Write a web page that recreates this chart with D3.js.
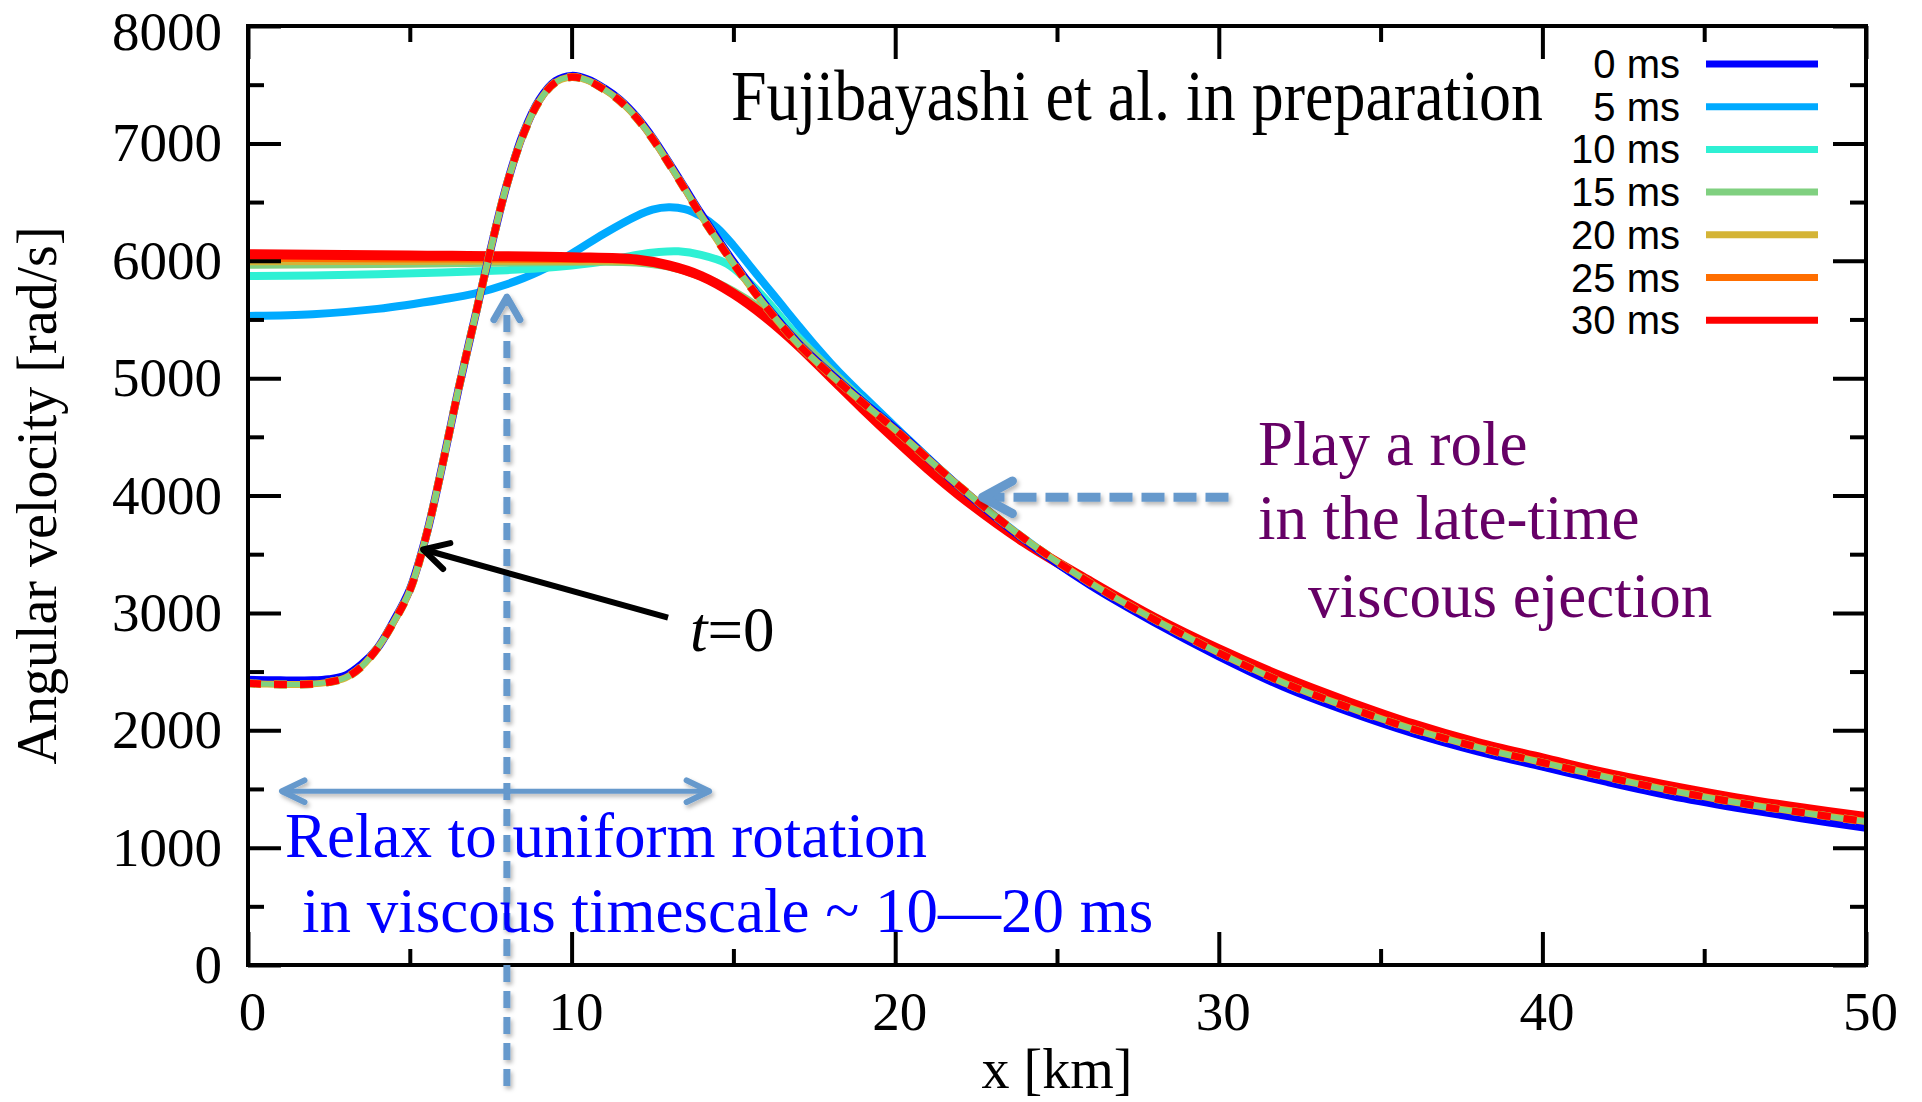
<!DOCTYPE html>
<html>
<head>
<meta charset="utf-8">
<script src="https://cdn.jsdelivr.net/npm/d3@7"></script>
<style>
  html, body { margin: 0; padding: 0; background: #ffffff; }
  svg { display: block; }
</style>
</head>
<body>
<svg id="chart" width="1922" height="1102"></svg>
<script>
// ---- axis ticks ----
const xTickValues = [0, 10, 20, 30, 40, 50];
const xMinorTicks = [5, 15, 25, 35, 45];
const yTickValues = [0, 1000, 2000, 3000, 4000, 5000, 6000, 7000, 8000];
const yMinorTicks = [500, 1500, 2500, 3500, 4500, 5500, 6500, 7500];

// ---- series (x [km], angular velocity [rad/s]) ----
const seriesNames  = ["0 ms", "5 ms", "10 ms", "15 ms", "20 ms", "25 ms", "30 ms"];
const seriesColors = ["#0000ff", "#00aaff", "#2ef0d4", "#80d080", "#d4b436", "#ff6e00", "#ff0000"];

const omega0ms = [[0,2430],[1,2425],[2,2425],[2.5,2435],[3,2465],[3.5,2560],[4,2700],[4.5,2930],
  [5,3200],[5.5,3650],[6,4250],[6.5,4900],[7,5500],[7.5,6100],[8,6650],[8.5,7080],[9,7370],
  [9.5,7530],[10,7575],[10.5,7545],[11,7470],[11.5,7370],[12,7230],[12.5,7050],[13,6840],
  [13.5,6620],[14,6400],[15,5990],[16,5620],[17,5300],[18,5040],[19,4800],[20,4570],[22,4070],
  [24,3620],[26,3240],[28,2920],[30,2630],[32,2370],[34,2160],[36,1975],[38,1820],[40,1690],
  [42,1560],[44,1440],[46,1340],[48,1250],[50,1170]];

const omega5ms = [[0,5530],[2,5545],[4,5590],[6,5670],[7,5720],[8,5800],[9,5910],[10,6060],
  [11,6230],[12,6380],[12.5,6435],[13,6455],[13.5,6440],[14,6380],[14.5,6280],[15,6130],
  [15.5,5960],[16,5790],[16.5,5620],[17,5450],[17.5,5285],[18,5130],[18.5,4985],[19,4850],
  [20,4585],[22,4070],[24,3630],[26,3250],[28,2930],[30,2635],[32,2380],[34,2170],[36,1980],
  [38,1828],[40,1695],[42,1568],[44,1450],[46,1350],[48,1262],[50,1180]];

const omega10ms = [[0,5870],[2,5875],[4,5885],[6,5900],[8,5920],[9,5935],[10,5960],[11,5995],
  [12,6050],[12.7,6075],[13.3,6080],[14,6050],[14.8,5975],[15.4,5840],[16,5670],[17,5350],
  [18,5070],[19,4810],[20,4560],[22,4060],[24,3620],[26,3250],[28,2930],[30,2640],[32,2390],
  [34,2180],[36,1990],[38,1835],[40,1700],[42,1575],[44,1460],[46,1360],[48,1275],[50,1195]];

const omega15ms = [[0,5965],[5,5975],[10,5990],[12,5985],[13,5950],[14,5870],[15,5740],[16,5560],
  [17,5330],[18,5070],[19,4800],[20,4540],[22,4040],[24,3620],[26,3260],[28,2950],[30,2670],
  [32,2420],[34,2210],[36,2020],[38,1860],[40,1720],[42,1600],[44,1480],[46,1380],[48,1300],[50,1225]];

const omega20ms = [[0,5995],[5,5998],[10,6000],[12,5995],[13,5955],[14,5865],[15,5725],[16,5535],
  [17,5300],[18,5035],[19,4765],[20,4505],[22,4015],[24,3605],[26,3265],[28,2955],[30,2680],
  [32,2440],[34,2225],[36,2040],[38,1880],[40,1745],[42,1620],[44,1505],[46,1405],[48,1320],[50,1245]];

const omega25ms = [[0,6025],[5,6020],[10,6015],[12,6005],[13,5958],[14,5868],[15,5722],[16,5528],
  [17,5290],[18,5022],[19,4752],[20,4492],[22,4008],[24,3602],[26,3268],[28,2958],[30,2685],
  [32,2445],[34,2232],[36,2045],[38,1885],[40,1752],[42,1625],[44,1512],[46,1412],[48,1328],[50,1252]];

const omega30ms = [[0,6055],[5,6045],[10,6030],[12,6010],[13,5960],[14,5870],[15,5720],[16,5520],
  [17,5280],[18,5010],[19,4740],[20,4480],[21,4230],[22,4000],[24,3600],[26,3270],[28,2960],
  [30,2690],[32,2450],[34,2240],[36,2050],[38,1890],[40,1760],[42,1630],[44,1520],[46,1420],
  [48,1335],[50,1260]];

// dashed companion profile plotted for the later snapshots
const dashedProfile = [[0,2400],[1,2390],[2,2395],[2.5,2410],[3,2445],[3.5,2540],[4,2700],
  [4.5,2920],[5,3190],[5.5,3650],[6,4250],[6.5,4900],[7,5500],[7.5,6100],[8,6650],[8.5,7070],
  [9,7360],[9.5,7520],[10,7565],[10.5,7535],[11,7460],[11.5,7360],[12,7220],[12.5,7040],
  [13,6830],[13.5,6610],[14,6385],[15,5975],[16,5610],[17,5290],[18,5030],[19,4790],[20,4560],
  [22,4075],[24,3630],[26,3260],[28,2945],[30,2660],[32,2405],[34,2195],[36,2010],[38,1855],
  [40,1725],[42,1600],[44,1485],[46,1385],[48,1300],[50,1222]];

const seriesData = [omega0ms, omega5ms, omega10ms, omega15ms, omega20ms, omega25ms, omega30ms];

// ---- layout ----
const svg = d3.select("#chart");
const plotLeft = 248, plotRight = 1866, plotTop = 26, plotBottom = 965;
const x = d3.scaleLinear().domain([0, 50]).range([plotLeft, plotRight]);
const y = d3.scaleLinear().domain([0, 8000]).range([plotBottom, plotTop]);

const serif = "'Liberation Serif', 'Times New Roman', serif";
const sans = "'Liberation Sans', Arial, Helvetica, sans-serif";

const defs = svg.append("defs");
const shadow = defs.append("filter").attr("id", "soft-shadow")
  .attr("x", "-20%").attr("y", "-20%").attr("width", "140%").attr("height", "140%");
shadow.append("feDropShadow").attr("dx", 2).attr("dy", 3).attr("stdDeviation", 2)
  .attr("flood-color", "#000").attr("flood-opacity", 0.28);
defs.append("clipPath").attr("id", "plot-clip").append("rect")
  .attr("x", plotLeft).attr("y", plotTop)
  .attr("width", plotRight - plotLeft).attr("height", plotBottom - plotTop);

// ---- curves ----
const line = d3.line().x(d => x(d[0])).y(d => y(d[1])).curve(d3.curveCatmullRom.alpha(0.5));
const plot = svg.append("g").attr("clip-path", "url(#plot-clip)");

const solidWidths = [8, 8, 8, 8, 8, 8, 10];
for (let i = 1; i < seriesData.length; i++) {
  plot.append("path").datum(seriesData[i])
    .attr("fill", "none").attr("stroke", seriesColors[i])
    .attr("stroke-width", solidWidths[i]).attr("stroke-linejoin", "round")
    .attr("d", line);
}
plot.append("path").datum(seriesData[0])
  .attr("fill", "none").attr("stroke", seriesColors[0])
  .attr("stroke-width", solidWidths[0]).attr("d", line);

// dashed copies: drawn in each later colour, phase shifted so the colours interleave
const dashedStyles = [
  { idx: 2, width: 8, offset: 26 },
  { idx: 4, width: 7, offset: 13 },
  { idx: 3, width: 5, offset: 13 },
  { idx: 5, width: 8, offset: 0 },
  { idx: 6, width: 7, offset: 0 }
];
dashedStyles.forEach(s => {
  plot.append("path").datum(dashedProfile)
    .attr("fill", "none").attr("stroke", seriesColors[s.idx])
    .attr("stroke-width", s.width)
    .attr("stroke-dasharray", "13 13").attr("stroke-dashoffset", s.offset)
    .attr("d", line);
});

// ---- axes (ticks point inward on all four sides) ----
function styleAxis(g) {
  g.selectAll(".domain").remove();
  g.selectAll(".tick line").attr("stroke", "#000").attr("stroke-width", 4);
  g.selectAll("text").attr("font-family", serif).attr("font-size", 55).attr("fill", "#000");
}
svg.append("g").attr("transform", `translate(0,${plotBottom})`)
  .call(d3.axisBottom(x).tickValues(xTickValues).tickSizeInner(-33).tickSizeOuter(0).tickPadding(26))
  .call(styleAxis).call(g => g.selectAll("text").attr("dx", 4));
svg.append("g").attr("transform", `translate(0,${plotBottom})`)
  .call(d3.axisBottom(x).tickValues(xMinorTicks).tickSizeInner(-16).tickSizeOuter(0).tickFormat(""))
  .call(styleAxis);
svg.append("g").attr("transform", `translate(0,${plotTop})`)
  .call(d3.axisTop(x).tickValues(xTickValues).tickSizeInner(-33).tickSizeOuter(0).tickFormat(""))
  .call(styleAxis);
svg.append("g").attr("transform", `translate(0,${plotTop})`)
  .call(d3.axisTop(x).tickValues(xMinorTicks).tickSizeInner(-16).tickSizeOuter(0).tickFormat(""))
  .call(styleAxis);
svg.append("g").attr("transform", `translate(${plotLeft},0)`)
  .call(d3.axisLeft(y).tickValues(yTickValues).tickSizeInner(-33).tickSizeOuter(0).tickPadding(26).tickFormat(d3.format("d")))
  .call(styleAxis)
  // the topmost label sits a little lower so it stays inside the page
  .call(g => g.selectAll(".tick text").filter(d => d === 8000).attr("dy", "0.42em"));
svg.append("g").attr("transform", `translate(${plotLeft},0)`)
  .call(d3.axisLeft(y).tickValues(yMinorTicks).tickSizeInner(-16).tickSizeOuter(0).tickFormat(""))
  .call(styleAxis);
svg.append("g").attr("transform", `translate(${plotRight},0)`)
  .call(d3.axisRight(y).tickValues(yTickValues).tickSizeInner(-33).tickSizeOuter(0).tickFormat(""))
  .call(styleAxis);
svg.append("g").attr("transform", `translate(${plotRight},0)`)
  .call(d3.axisRight(y).tickValues(yMinorTicks).tickSizeInner(-16).tickSizeOuter(0).tickFormat(""))
  .call(styleAxis);

svg.append("rect").attr("x", plotLeft).attr("y", plotTop)
  .attr("width", plotRight - plotLeft).attr("height", plotBottom - plotTop)
  .attr("fill", "none").attr("stroke", "#000").attr("stroke-width", 4);

// axis titles
svg.append("text").attr("x", (plotLeft + plotRight) / 2).attr("y", 1088)
  .attr("text-anchor", "middle").attr("font-family", serif).attr("font-size", 56)
  .text("x [km]");
svg.append("text").attr("transform", `translate(56,${(plotTop + plotBottom) / 2}) rotate(-90)`)
  .attr("text-anchor", "middle").attr("font-family", serif).attr("font-size", 56)
  .text("Angular velocity [rad/s]");

// ---- legend ----
const legend = svg.append("g");
seriesNames.forEach((name, i) => {
  const ly = 64 + i * 42.7;
  legend.append("text").attr("x", 1680).attr("y", ly + 14)
    .attr("text-anchor", "end").attr("font-family", sans).attr("font-size", 40)
    .text(name);
  legend.append("line").attr("x1", 1706).attr("x2", 1818).attr("y1", ly).attr("y2", ly)
    .attr("stroke", seriesColors[i]).attr("stroke-width", 7);
});

// ---- annotations ----
// title set in a slightly tall, narrow face
svg.append("text").attr("transform", "translate(731,120) scale(1,1.12)")
  .attr("font-family", serif).attr("font-size", 64)
  .text("Fujibayashi et al. in preparation");

const noteBlue = "#6699cc";
// open chevron at (tx,ty), pointing along direction (dx,dy)
function chevron(g, tx, ty, dx, dy, len, ang, color, width) {
  const a = Math.atan2(dy, dx);
  const p1 = [tx - len * Math.cos(a - ang), ty - len * Math.sin(a - ang)];
  const p2 = [tx - len * Math.cos(a + ang), ty - len * Math.sin(a + ang)];
  g.append("path").attr("d", `M${p1[0]},${p1[1]}L${tx},${ty}L${p2[0]},${p2[1]}`)
    .attr("fill", "none").attr("stroke", color).attr("stroke-width", width)
    .attr("stroke-linecap", "round").attr("stroke-linejoin", "round");
}

const notes = svg.append("g").attr("filter", "url(#soft-shadow)");

// vertical dashed arrow at x = 8 km
{
  const ax = x(8), y0 = y(-1030), y1 = y(5690);
  notes.append("line").attr("x1", ax).attr("x2", ax).attr("y1", y0).attr("y2", y1 + 6)
    .attr("stroke", noteBlue).attr("stroke-width", 7).attr("stroke-dasharray", "17 9");
  chevron(notes, ax, y1, 0, -1, 26, Math.PI / 6, noteBlue, 7);
}
// horizontal double arrow
{
  const ay = y(1480), xa = x(1.05), xb = x(14.25);
  notes.append("line").attr("x1", xa).attr("x2", xb).attr("y1", ay).attr("y2", ay)
    .attr("stroke", noteBlue).attr("stroke-width", 5);
  chevron(notes, xa, ay, -1, 0, 25, 0.45, noteBlue, 6);
  chevron(notes, xb, ay, 1, 0, 25, 0.45, noteBlue, 6);
}
// dashed arrow toward the late-time curve
{
  const ay = y(3985), xa = x(22.7), xb = x(30.3);
  notes.append("line").attr("x1", xb).attr("x2", xa + 6).attr("y1", ay).attr("y2", ay)
    .attr("stroke", noteBlue).attr("stroke-width", 9).attr("stroke-dasharray", "23 9");
  chevron(notes, xa, ay, -1, 0, 34, 0.5, noteBlue, 9);
}

// black arrow labelled t=0
{
  const tx = x(5.41), ty = y(3540), sx = x(12.98), sy = y(2960);
  svg.append("line").attr("x1", sx).attr("y1", sy).attr("x2", tx + 4).attr("y2", ty + 1)
    .attr("stroke", "#000").attr("stroke-width", 6);
  chevron(svg, tx, ty, tx - sx, ty - sy, 28, 0.5, "#000", 6);
}
svg.append("text").attr("x", 690).attr("y", 651)
  .attr("font-family", serif).attr("font-size", 63)
  .call(t => {
    t.append("tspan").attr("font-style", "italic").text("t");
    t.append("tspan").text("=0");
  });

// purple note
const purple = "#660066";
[["Play a role", 1258, 465], ["in the late-time", 1258, 539], ["viscous ejection", 1308, 617]]
  .forEach(([s, tx, ty]) => {
    svg.append("text").attr("x", tx).attr("y", ty)
      .attr("font-family", serif).attr("font-size", 63).attr("fill", purple).text(s);
  });

// blue note
[["Relax to uniform rotation", 285, 857], ["in viscous timescale ~ 10\u201420 ms", 302, 932]]
  .forEach(([s, tx, ty]) => {
    svg.append("text").attr("x", tx).attr("y", ty)
      .attr("font-family", serif).attr("font-size", 63).attr("fill", "#0000ff").text(s);
  });
</script>
</body>
</html>
